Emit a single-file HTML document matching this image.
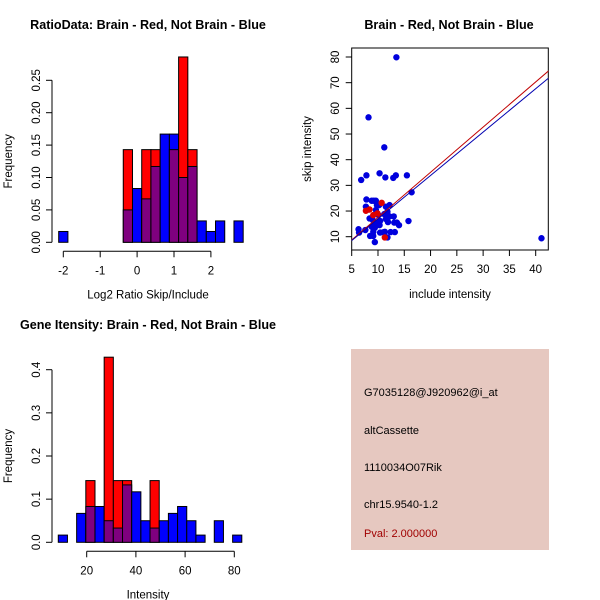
<!DOCTYPE html>
<html><head><meta charset="utf-8"><style>
body{margin:0;background:#fff}
svg{display:block;font-family:"Liberation Sans",sans-serif}
</style></head><body>
<svg id="s" width="600" height="600">
<rect x="351" y="349" width="198" height="201" fill="#e6c8c0"/>
<g font-size="11">
<text x="364" y="396">G7035128@J920962@i_at</text>
<text x="364" y="434">altCassette</text>
<text x="364" y="471">1110034O07Rik</text>
<text x="364" y="508">chr15.9540-1.2</text>
<text x="364" y="537" fill="#a00000">Pval: 2.000000</text>
</g>
</svg>
<script>
// Panel 1: ratio histogram
const r1Start=-2.125, r1Width=0.25;
const r1Blue=[0.0167,0,0,0,0,0,0,0.05,0.083,0.067,0.117,0.167,0.167,0.1,0.117,0.033,0.0167,0.033,0,0.033];
const r1Red =[0,0,0,0,0,0,0,0.143,0,0.143,0.143,0,0.143,0.286,0.143,0,0,0,0,0];
const r1XTicks=[-2,-1,0,1,2];
const r1YTicks=[0,0.05,0.10,0.15,0.20,0.25];
const r1YLabels=["0.00","0.05","0.10","0.15","0.20","0.25"];
// Panel 3: intensity histogram
const r3Start=8.45, r3Width=3.73;
const r3Blue=[0.0167,0,0.067,0.083,0.083,0.05,0.033,0.133,0.117,0.05,0.033,0.05,0.067,0.083,0.05,0.0167,0,0.05,0,0.0167];
const r3Red =[0,0,0,0.143,0,0.429,0.143,0.143,0,0,0.143,0,0,0,0,0,0,0,0,0];
const r3XTicks=[20,40,60,80];
const r3YTicks=[0,0.1,0.2,0.3,0.4];
const r3YLabels=["0.0","0.1","0.2","0.3","0.4"];
// Panel 2: scatter
const blueX=[13.5,8.2,11.2,6.8,7.8,10.3,11.4,12.9,13.4,15.5,16.4,15.8,41.1,6.3,6.4,7.6,7.8,7.7,8.2,8.4,8.8,9.2,9.6,9.8,10.2,9.6,10.1,9.0,9.4,9.8,10.3,10.4,8.8,9.1,9.4,10.4,11.0,11.3,11.8,12.4,13.2,9.4,11.5,11.8,11.2,11.5,11.9,12.2,13.0,13.1,13.6,14.0,9.1,8.5,12.2];
const blueY=[79.9,56.5,44.8,32.1,33.9,34.7,33.1,32.9,33.9,33.9,27.3,16.1,9.4,12.9,11.6,12.6,24.5,21.7,20.6,17.1,24.0,24.0,24.0,22.3,22.3,20.4,18.4,16.5,15.5,14.9,14.5,16.1,13.9,11.9,13.5,11.6,11.7,11.9,9.7,11.8,11.8,7.9,21.7,19.7,18.8,16.9,15.7,17.9,17.9,15.5,15.5,14.5,10.3,10.3,22.3];
const redX=[7.7,8.4,9.1,10.7,11.3,9.9];
const redY=[20.1,20.6,18.4,23.2,9.7,19.1];
const lineIntercepts=[-0.1,0.05];
const lineSlopes=[1.76,1.69];
const lineColors=["#c00000","#0000b0"];
const scXTicks=[5,10,15,20,25,30,35,40];
const scYTicks=[10,20,30,40,50,60,70,80];

const svg=document.getElementById('s');
const NS='http://www.w3.org/2000/svg';
function el(t,a){const e=document.createElementNS(NS,t);for(const k in a)e.setAttribute(k,a[k]);svg.appendChild(e);return e;}
function txt(x,y,s,o){const e=el('text',Object.assign({x:x,y:y,'text-anchor':'middle','font-size':11.5},o||{}));e.textContent=s;return e;}

function hist(start,w,blue,red,xs,ys,xt,yt,ylab,xlab,title,ty,names){
  blue.forEach((b,i)=>{
    const r=red[i],x0=xs(start+i*w),x1=xs(start+(i+1)*w);
    const mx=Math.max(b,r),mn=Math.min(b,r);
    if(mx>0){const e=el('rect',{x:x0,y:ys(mx),width:x1-x0,height:ys(0)-ys(mx),fill:b>=r?'#0000ff':'#ff0000',stroke:'#000','stroke-width':1});
      
      }
    if(mn>0){const e=el('rect',{x:x0,y:ys(mn),width:x1-x0,height:ys(0)-ys(mn),fill:'#7f007f',stroke:'#000','stroke-width':1});
      
      }
  });
  const ax=52,y0=ys(0);
  const ya=el('line',{x1:ax,x2:ax,y1:ys(yt[0]),y2:ys(yt[yt.length-1]),stroke:'#000'});
  
  
  yt.forEach((v,i)=>{el('line',{x1:ax-6,x2:ax,y1:ys(v),y2:ys(v),stroke:'#000'});
    const t=txt(ax-12,ys(v),ylab[i],{transform:`rotate(-90 ${ax-12} ${ys(v)})`});
    
    });
  const xy=y0+9;
  const xa=el('line',{x1:xs(xt[0]),x2:xs(xt[xt.length-1]),y1:xy,y2:xy,stroke:'#000'});
  
  
  xt.forEach(v=>{el('line',{x1:xs(v),x2:xs(v),y1:xy,y2:xy+6,stroke:'#000'});
    const t=txt(xs(v),xy+23,String(v));
    
    });
  const xl=txt(148,y0+56,xlab);
  
  
  const cy=(ys(yt[0])+ys(yt[yt.length-1]))/2;
  const yl=txt(12,cy,'Frequency',{transform:`rotate(-90 12 ${cy})`});
  
  
  const tt=txt(148,ty,title,{'font-weight':'bold','font-size':12.6});
  
  
}
hist(r1Start,r1Width,r1Blue,r1Red,v=>63.3+(v+2)*36.9,v=>242.3-v*648,r1XTicks,r1YTicks,r1YLabels,'Log2 Ratio Skip/Include','RatioData: Brain - Red, Not Brain - Blue',29,'ratio');
hist(r3Start,r3Width,r3Blue,r3Red,v=>86.7+(v-20)*2.46,v=>542.3-v*431.5,r3XTicks,r3YTicks,r3YLabels,'Intensity','Gene Itensity: Brain - Red, Not Brain - Blue',329,'intensity');

// scatter
const sx=v=>351.7+(v-5)*5.257, sy=v=>236.7-(v-10)*2.567;
const cp=el('clipPath',{id:'cp'});
const cr=document.createElementNS(NS,'rect');cr.setAttribute('x',351.7);cr.setAttribute('y',48);cr.setAttribute('width',196.6);cr.setAttribute('height',202);cp.appendChild(cr);
const box=el('rect',{x:351.7,y:48,width:196.6,height:202,fill:'none',stroke:'#000'});


blueX.forEach((x,i)=>{const c=el('circle',{cx:sx(x),cy:sy(blueY[i]),r:3.2,fill:'#0000dd'});
  
  });
redX.forEach((x,i)=>{const c=el('circle',{cx:sx(x),cy:sy(redY[i]),r:3.2,fill:'#dd0000'});
  
  });
lineIntercepts.forEach((a,i)=>{const b=lineSlopes[i];
  const l=el('line',{x1:sx(4),y1:sy(a+b*4),x2:sx(43),y2:sy(a+b*43),stroke:lineColors[i],'stroke-width':1,'clip-path':'url(#cp)'});
  
  });
scXTicks.forEach(v=>{el('line',{x1:sx(v),x2:sx(v),y1:250,y2:256,stroke:'#000'});
  const t=txt(sx(v),273,String(v));
  
  });
scYTicks.forEach(v=>{el('line',{x1:345.7,x2:351.7,y1:sy(v),y2:sy(v),stroke:'#000'});
  const t=txt(339,sy(v),String(v),{transform:`rotate(-90 339 ${sy(v)})`});
  
  });
const sxl=txt(450,298,'include intensity');


const syl=txt(311,149,'skip intensity',{transform:'rotate(-90 311 149)'});


const st=txt(449,29,'Brain - Red, Not Brain - Blue',{'font-weight':'bold','font-size':12.6});


</script>
</body></html>
